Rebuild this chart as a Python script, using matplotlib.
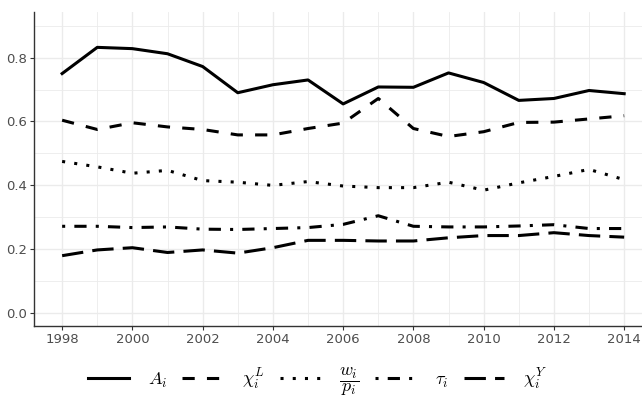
import matplotlib.pyplot as plt
import numpy as np

plt.rcParams['mathtext.fontset'] = 'cm'

years = np.arange(1998, 2015)
A = [0.750, 0.832, 0.828, 0.812, 0.772, 0.690, 0.715, 0.730, 0.655, 0.708,
     0.707, 0.752, 0.722, 0.666, 0.672, 0.697, 0.687]
chi_L = [0.604, 0.575, 0.596, 0.583, 0.575, 0.558, 0.558, 0.578, 0.595, 0.672,
         0.578, 0.553, 0.568, 0.597, 0.598, 0.608, 0.618]
w_p = [0.475, 0.458, 0.438, 0.447, 0.415, 0.410, 0.400, 0.412, 0.398, 0.393,
       0.393, 0.410, 0.385, 0.408, 0.428, 0.450, 0.418]
tau = [0.272, 0.272, 0.268, 0.270, 0.263, 0.262, 0.265, 0.268, 0.278, 0.305,
       0.272, 0.270, 0.270, 0.273, 0.277, 0.265, 0.265]
chi_Y = [0.180, 0.198, 0.205, 0.190, 0.198, 0.188, 0.205, 0.228, 0.228, 0.226,
         0.226, 0.236, 0.243, 0.243, 0.252, 0.243, 0.238]

labels = [r'$A_i$', r'$\chi_i^L$', r'$\dfrac{w_i}{p_i}$', r'$\tau_i$', r'$\chi_i^Y$']
series = [A, chi_L, w_p, tau, chi_Y]
# R-style linetypes: solid, dashed, dotted, dotdash, longdash
dash_styles = [None, (4, 4), (1, 3), (1, 3, 4, 3), (7, 3)]

fig = plt.figure(figsize=(6.42, 3.99), dpi=100)
# panel runs slightly past the right edge of the canvas
ax = fig.add_axes([0.053, 0.183, 0.963, 0.788])

for vals, lab, d in zip(series, labels, dash_styles):
    kw = dict(color='black', lw=2.2, label=lab)
    if d is not None:
        kw['dashes'] = d
    ax.plot(years, vals, **kw)

ax.set_xlim(1997.2, 2014.8)
ax.set_ylim(-0.04, 0.944)
ax.set_xticks(np.arange(1998, 2015, 2))
ax.set_xticks(np.arange(1999, 2015, 2), minor=True)
ax.set_yticks([0.0, 0.2, 0.4, 0.6, 0.8])
ax.set_yticks([0.1, 0.3, 0.5, 0.7, 0.9], minor=True)
ax.yaxis.set_major_formatter(plt.FuncFormatter(lambda v, p: f'{v:.1f}'))
ax.grid(which='major', color='#ebebeb', lw=1.0)
ax.grid(which='minor', color='#ebebeb', lw=0.6)
ax.set_axisbelow(True)
for s in ['top', 'right']:
    ax.spines[s].set_visible(False)
for s in ['left', 'bottom']:
    ax.spines[s].set_color('#333333')
    ax.spines[s].set_linewidth(1.0)
ax.tick_params(which='both', length=3, pad=2, color='#333333', labelcolor='#4d4d4d',
               labelsize=9.5)
ax.tick_params(which='minor', length=0)

fig.legend(loc='center', bbox_to_anchor=(0.495, 0.043), ncol=5, frameon=False,
           fontsize=13, handlelength=2.25, columnspacing=0.85, handletextpad=1.05)

fig.savefig('out.png', dpi=100)
